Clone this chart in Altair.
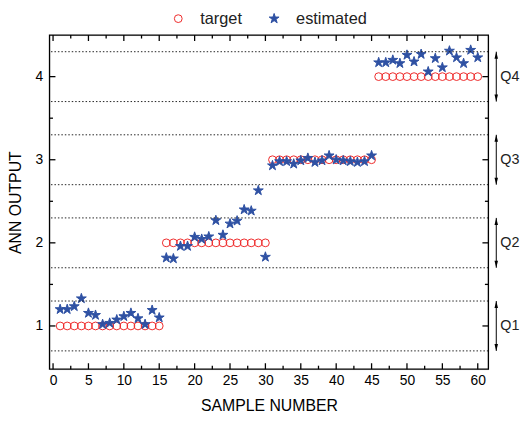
import altair as alt
import pandas as pd

# ---------------- data ----------------
samples = list(range(1, 61))
target = [1, 1, 1, 1, 1, 1, 1, 1, 1, 1, 1, 1, 1, 1, 1,
          2, 2, 2, 2, 2, 2, 2, 2, 2, 2, 2, 2, 2, 2, 2,
          3, 3, 3, 3, 3, 3, 3, 3, 3, 3, 3, 3, 3, 3, 3,
          4, 4, 4, 4, 4, 4, 4, 4, 4, 4, 4, 4, 4, 4, 4]
estimated = [1.20, 1.20, 1.235, 1.33, 1.155, 1.13, 1.02, 1.035, 1.075, 1.115, 1.155, 1.09, 1.02, 1.19, 1.10,
             1.82, 1.81, 1.96, 1.96, 2.07, 2.045, 2.075, 2.27, 2.095, 2.23, 2.265, 2.40, 2.385, 2.63, 1.83,
             2.93, 2.98, 2.98, 2.95, 2.99, 3.02, 2.97, 2.99, 3.05, 3.00, 2.99, 2.98, 2.97, 2.98, 3.05,
             4.17, 4.17, 4.20, 4.16, 4.26, 4.18, 4.27, 4.06, 4.22, 4.11, 4.31, 4.23, 4.16, 4.32, 4.23]
series_names = ["target", "estimated"]

x_major = [0, 5, 10, 15, 20, 25, 30, 35, 40, 45, 50, 55, 60]
x_minor = [2.5, 7.5, 12.5, 17.5, 22.5, 27.5, 32.5, 37.5, 42.5, 47.5, 52.5, 57.5]
y_major = [1, 2, 3, 4]
y_minor = [1.5, 2.5, 3.5]

q_labels = ["Q1", "Q2", "Q3", "Q4"]
q_levels = [1, 2, 3, 4]
q_lo = [0.7, 1.7, 2.7, 3.7]
q_hi = [1.3, 2.3, 3.3, 4.3]

# ---------------- style ----------------
W, H = 444, 338
RED = "#ee2a2a"
BLUE = "#2f51a3"
FONT = "Liberation Sans"
STAR = ("M0,-1L0.225,-0.309L0.951,-0.309L0.363,0.118L0.588,0.809L0,0.382"
        "L-0.588,0.809L-0.363,0.118L-0.951,-0.309L-0.225,-0.309Z")
UP = "M0,0L0.5,2L-0.5,2Z"
DOWN = "M0,0L0.5,-2L-0.5,-2Z"
MAJ, MIN = 6, 3.5
LW = 1.3

xs = alt.Scale(domain=[-0.5, 61.5], nice=False, zero=False)
ys = alt.Scale(domain=[0.48, 4.5], nice=False, zero=False)

x_axis = alt.Axis(title="SAMPLE NUMBER", values=x_major, ticks=False, domain=False,
                  grid=False, labelFontSize=14, labelPadding=5, labelFlush=False,
                  titleFontSize=16, titlePadding=10, titleFontWeight="normal")
y_axis = alt.Axis(title="ANN OUTPUT", values=y_major, ticks=False, domain=False,
                  grid=False, labelFontSize=14, labelPadding=7, labelFlush=False,
                  titleFontSize=16, titlePadding=12, titleFontWeight="normal")

pts = pd.DataFrame({
    "sample": samples + samples,
    "value": target + estimated,
    "series": [series_names[0]] * len(samples) + [series_names[1]] * len(samples),
})
bands = pd.DataFrame({"y": q_lo + q_hi})
qdf = pd.DataFrame({"label": q_labels, "level": q_levels, "lo": q_lo, "hi": q_hi})
frame_df = pd.DataFrame({"k": [0]})

leg = alt.Legend(title=None, orient="none", legendX=122, legendY=-25,
                 direction="horizontal", labelFontSize=16.5, labelColor="#222222",
                 symbolStrokeWidth=1, columnPadding=24,
                 labelOffset=14, padding=0, labelFont=FONT)

points = alt.Chart(pts).mark_point(opacity=1, strokeWidth=1).encode(
    x=alt.X("sample:Q", scale=xs, axis=x_axis),
    y=alt.Y("value:Q", scale=ys, axis=y_axis),
    shape=alt.Shape("series:N", scale=alt.Scale(domain=series_names, range=["circle", STAR]), legend=leg),
    stroke=alt.Stroke("series:N", scale=alt.Scale(domain=series_names, range=[RED, BLUE]), legend=leg),
    fill=alt.Fill("series:N", scale=alt.Scale(domain=series_names, range=["transparent", BLUE]), legend=leg),
    size=alt.Size("series:N", scale=alt.Scale(domain=series_names, range=[62, 110]), legend=leg),
)

dotted = alt.Chart(bands).mark_rule(color="#222222", strokeWidth=1, strokeDash=[1.5, 2]).encode(
    y=alt.Y("y:Q", scale=ys, axis=None)
)

def xticks(vals, length, top):
    d = pd.DataFrame({"tx": vals})
    y1, y2 = (0, length) if top else (H, H - length)
    return alt.Chart(d).mark_rule(color="#000000", strokeWidth=LW, opacity=1).encode(
        x=alt.X("tx:Q", scale=xs, axis=None), y=alt.value(y1), y2=alt.value(y2))

def yticks(vals, length, right):
    d = pd.DataFrame({"ty": vals})
    x1, x2 = (W, W - length) if right else (0, length)
    return alt.Chart(d).mark_rule(color="#000000", strokeWidth=LW, opacity=1).encode(
        y=alt.Y("ty:Q", scale=ys, axis=None), x=alt.value(x1), x2=alt.value(x2))

tick_layers = [
    xticks(x_major, MAJ, False), xticks(x_minor, MIN, False),
    xticks(x_major, MAJ, True), xticks(x_minor, MIN, True),
    yticks(y_major, MAJ, False), yticks(y_minor, MIN, False),
    yticks(y_major, MAJ, True), yticks(y_minor, MIN, True),
]

frame = alt.Chart(frame_df).mark_rect(fill=None, fillOpacity=0, stroke="#000000",
                                      strokeWidth=LW, opacity=1).encode(
    x=alt.value(0), x2=alt.value(W), y=alt.value(0), y2=alt.value(H))

shaft = alt.Chart(qdf).mark_rule(color="black", strokeWidth=1).encode(
    x=alt.value(W + 8),
    y=alt.Y("hi:Q", scale=ys, axis=None),
    y2="lo:Q",
)
head_up = alt.Chart(qdf).mark_point(shape=UP, filled=True, color="black", size=50, opacity=1).encode(
    x=alt.value(W + 8), y=alt.Y("hi:Q", scale=ys, axis=None))
head_dn = alt.Chart(qdf).mark_point(shape=DOWN, filled=True, color="black", size=50, opacity=1).encode(
    x=alt.value(W + 8), y=alt.Y("lo:Q", scale=ys, axis=None))
qtext = alt.Chart(qdf).mark_text(align="left", baseline="middle", fontSize=14.5, color="#222222", font=FONT).encode(
    x=alt.value(W + 12), y=alt.Y("level:Q", scale=ys, axis=None), text="label:N")

chart = alt.layer(points, dotted, shaft, head_up, head_dn, qtext, *tick_layers, frame).resolve_axis(
    x="independent", y="independent"
).properties(
    width=W, height=H,
    autosize=alt.AutoSizeParams(type="none"),
    padding={"left": 42, "top": 25, "right": 32, "bottom": 47},
).configure_view(stroke="black", strokeWidth=1).configure_axis(
    labelFont=FONT, titleFont=FONT, labelColor="#222222", titleColor="#222222"
).configure(font=FONT)

chart.save("out.html", embed_options={"renderer": "svg", "actions": False})
